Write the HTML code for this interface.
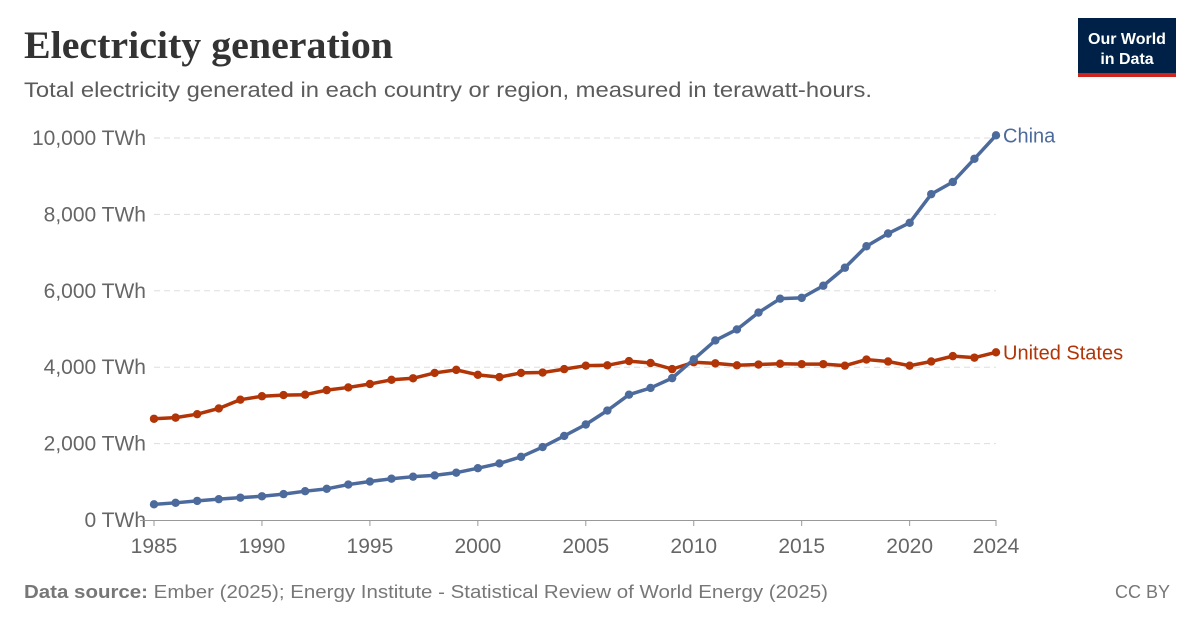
<!DOCTYPE html>
<html><head><meta charset="utf-8"><style>
body{margin:0;width:1200px;height:627px;background:#fff;overflow:hidden;font-family:"Liberation Sans",sans-serif}
</style></head><body>
<svg width="1200" height="627" xmlns="http://www.w3.org/2000/svg">
<text x="24" y="58" font-family="Liberation Serif,serif" font-size="39" font-weight="bold" fill="#333" textLength="369" lengthAdjust="spacingAndGlyphs">Electricity generation</text>
<text x="24" y="97" font-size="21" fill="#5b5b5b" textLength="848" lengthAdjust="spacingAndGlyphs">Total electricity generated in each country or region, measured in terawatt-hours.</text>
<g>
<rect x="1078" y="18" width="98" height="59" fill="#002147"/>
<rect x="1078" y="73" width="98" height="4" fill="#ce261e"/>
<text x="1127" y="44" font-size="16" font-weight="bold" fill="#fff" text-anchor="middle">Our World</text>
<text x="1127" y="64" font-size="16" font-weight="bold" fill="#fff" text-anchor="middle">in Data</text>
</g>
<g id="grid"></g>
<g id="yt"></g>
<g id="xt"></g>
<g id="series"></g>
<text x="24" y="598" font-size="18" fill="#777" textLength="804" lengthAdjust="spacingAndGlyphs"><tspan font-weight="bold">Data source:</tspan> Ember (2025); Energy Institute - Statistical Review of World Energy (2025)</text>
<text x="1170" y="598" font-size="18" fill="#777" text-anchor="end">CC BY</text>
</svg>
<script>
const years=[];for(let y=1985;y<=2024;y++)years.push(y);
const china=[410,450,500,545,585,621,678,754,816,928,1007,1081,1134,1167,1239,1356,1480,1654,1910,2200,2500,2866,3280,3457,3714,4207,4700,4988,5431,5794,5815,6133,6604,7166,7500,7779,8530,8849,9456,10070];
const us=[2650,2680,2770,2920,3150,3240,3270,3280,3400,3470,3560,3670,3710,3850,3930,3800,3740,3850,3860,3950,4040,4050,4160,4110,3950,4130,4100,4050,4070,4090,4080,4080,4040,4200,4150,4040,4150,4290,4250,4390];
const yTicks=[0,2000,4000,6000,8000,10000];
const yTickLabels=["0 TWh","2,000 TWh","4,000 TWh","6,000 TWh","8,000 TWh","10,000 TWh"];
const xTicks=[1985,1990,1995,2000,2005,2010,2015,2020,2024];
const NS="http://www.w3.org/2000/svg";
const X=y=>154+(y-1985)*(996-154)/39;
const Y=v=>520-v*(520-138)/10000;
function mk(t,a,p){const e=document.createElementNS(NS,t);for(const k in a)e.setAttribute(k,a[k]);p.appendChild(e);return e;}
const grid=document.getElementById('grid'),yt=document.getElementById('yt'),xt=document.getElementById('xt'),se=document.getElementById('series');
yTicks.forEach((v,i)=>{
 if(v>0){const l=mk('line',{x1:154,x2:996,y1:Y(v),y2:Y(v),stroke:'#ddd','stroke-dasharray':'6,4'},grid);
 
 }
 const t=mk('text',{x:146,y:Y(v)+7,'font-size':21,fill:'#666','text-anchor':'end'},yt);t.textContent=yTickLabels[i];
 
 
});
const ax=mk('line',{x1:140,x2:996,y1:520.5,y2:520.5,stroke:'#999'},xt);


xTicks.forEach(y=>{
 mk('line',{x1:X(y),x2:X(y),y1:520,y2:526,stroke:'#999'},xt);
 const t=mk('text',{x:X(y),y:553,'font-size':21,fill:'#666','text-anchor':'middle'},xt);t.textContent=y;
 
 
});
function draw(vals,col,name,label){
 const g=mk('g',{},se);
 
 
 mk('polyline',{points:vals.map((v,i)=>X(years[i])+','+Y(v)).join(' '),fill:'none',stroke:col,'stroke-width':3.5,'stroke-linejoin':'round'},g);
 vals.forEach((v,i)=>{const c=mk('circle',{cx:X(years[i]),cy:Y(v),r:4.2,fill:col},g);
 
 });
 const t=mk('text',{x:1003,y:Y(vals[vals.length-1])+7,'font-size':20,fill:col},g);t.textContent=label;
 
 
}
draw(us,'#b13507','us','United States');
draw(china,'#4c6a9c','china','China');
</script>
</body></html>
